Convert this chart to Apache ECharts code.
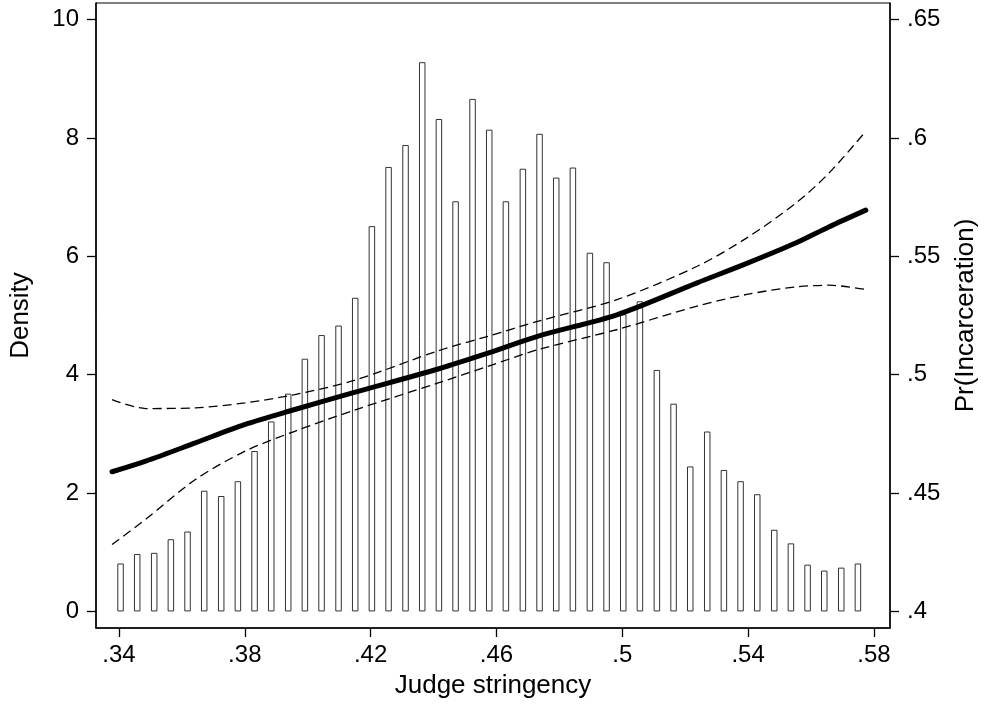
<!DOCTYPE html>
<html><head><meta charset="utf-8">
<script src="https://cdn.jsdelivr.net/npm/echarts@6/dist/echarts.min.js"></script>
<style>html,body{margin:0;padding:0;background:#fff}#c{width:987px;height:704px}</style>
</head><body><div id="c"></div>
<script>
// Histogram bins (centers) and density heights
const binCenters = [.3405,.3458,.3512,.3565,.3618,.3671,.3725,.3778,.3831,.3884,.3938,.3991,.4044,.4098,.4151,.4204,.4257,.4311,.4364,.4417,.4470,.4524,.4577,.4630,.4684,.4737,.4790,.4843,.4897,.4950,.5003,.5056,.5110,.5163,.5216,.5270,.5323,.5376,.5429,.5483,.5536,.5589,.5642,.5696,.5749];
const density = [0.81,0.97,0.99,1.22,1.35,2.04,1.95,2.20,2.71,3.21,3.68,4.27,4.67,4.83,5.30,6.51,7.51,7.88,9.28,8.32,6.93,8.66,8.14,6.93,7.48,8.07,7.33,7.50,6.06,5.90,5.02,5.24,4.08,3.51,2.45,3.04,2.39,2.20,1.98,1.38,1.15,0.79,0.69,0.74,0.81];
// Fitted probability of incarceration and confidence band
const fitX = [.3378,.3485,.3643,.3801,.3959,.4148,.4417,.4575,.4733,.4985,.5238,.5396,.5553,.5658,.5774];
const fitY = [.4590,.4635,.4712,.4790,.4853,.4925,.5025,.5092,.5163,.5254,.5388,.5470,.5557,.5625,.5695];
const upperY = [.4895,.4857,.4860,.4881,.4916,.4976,.5102,.5163,.5226,.5318,.5458,.5578,.5726,.5853,.6028];
const lowerY = [.4283,.4389,.4557,.4677,.4761,.4850,.4966,.5036,.5106,.5191,.5290,.5339,.5371,.5378,.5360];
// Tick labels
const xTicks = [.34,.38,.42,.46,.50,.54,.58];
const densityTicks = [0,2,4,6,8,10];
const probTicks = [.4,.45,.5,.55,.6,.65];

const FONT = 'Liberation Sans, Arial, sans-serif';
const fmt = v => String(+(+v).toFixed(2)).replace(/^0\./, '.');
const chart = echarts.init(document.getElementById('c'), null, {renderer: 'canvas'});
const axisCommon = {
  axisLine: {show: true, onZero: false, lineStyle: {color: '#000', width: 1.5}},
  splitLine: {show: false},
  nameTextStyle: {fontFamily: FONT, fontSize: 26, color: '#000'}
};
const tickStyle = vals => ({show: true, customValues: vals, length: 9, lineStyle: {color: '#000', width: 1.3}});
const labelStyle = (vals, m) => ({customValues: vals, formatter: fmt, fontFamily: FONT, fontSize: 24, color: '#000', margin: m});
chart.setOption({
  animation: false,
  backgroundColor: '#fff',
  grid: {left: 95, right: 92, top: 3, bottom: 76, show: true, borderColor: '#000', borderWidth: 1, backgroundColor: 'transparent'},
  xAxis: Object.assign({}, axisCommon, {
    type: 'value', min: .3327, max: .5851,
    axisTick: tickStyle(xTicks),
    axisLabel: labelStyle(xTicks, 15),
    name: 'Judge stringency', nameLocation: 'middle', nameGap: 45
  }),
  yAxis: [
    Object.assign({}, axisCommon, {
      type: 'value', position: 'left', min: -0.28, max: 10.28,
      axisTick: tickStyle(densityTicks),
      axisLabel: labelStyle(densityTicks, 17),
      name: 'Density', nameLocation: 'middle', nameGap: 62, nameRotate: 90
    }),
    Object.assign({}, axisCommon, {
      type: 'value', position: 'right', min: .393, max: .657,
      axisTick: tickStyle(probTicks),
      axisLabel: labelStyle(probTicks, 17),
      name: 'Pr(Incarceration)', nameLocation: 'middle', nameGap: 63, nameRotate: 90
    })
  ],
  series: [
    {
      type: 'bar', xAxisIndex: 0, yAxisIndex: 0, barWidth: 6.5,
      itemStyle: {color: '#fff', borderColor: '#333', borderWidth: 1},
      data: binCenters.map((x, i) => [x, density[i]]), z: 1
    },
    {
      type: 'line', yAxisIndex: 1, smooth: 0.3, showSymbol: false, z: 3,
      lineStyle: {color: '#000', width: 1.3, type: [9, 5]},
      data: fitX.map((x, i) => [x, upperY[i]])
    },
    {
      type: 'line', yAxisIndex: 1, smooth: 0.3, showSymbol: false, z: 3,
      lineStyle: {color: '#000', width: 1.3, type: [9, 5]},
      data: fitX.map((x, i) => [x, lowerY[i]])
    },
    {
      type: 'line', yAxisIndex: 1, smooth: 0.3, showSymbol: false, z: 4,
      lineStyle: {color: '#000', width: 5, cap: 'round'},
      data: fitX.map((x, i) => [x, fitY[i]])
    }
  ]
});
</script></body></html>
